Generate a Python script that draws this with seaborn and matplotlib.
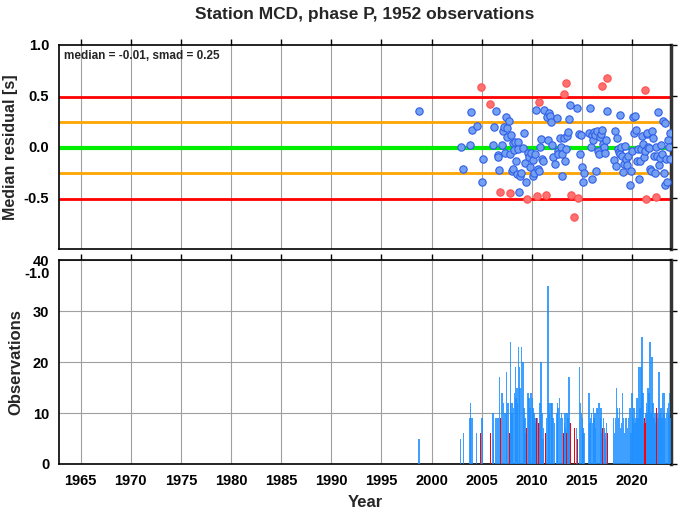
import matplotlib
matplotlib.use("Agg")
import matplotlib.pyplot as plt
import matplotlib.transforms as mtransforms
import seaborn as sns
import pandas as pd

# Monthly-ish bins: decimal year, median residual [s], number of observations
blue_year = [1998.73, 2002.90, 2003.17, 2003.83, 2003.90, 2004.03, 2004.50, 2005.00, 2005.10,
             2006.13, 2006.20, 2006.43, 2006.60, 2006.67, 2006.75, 2007.00, 2007.10, 2007.20,
             2007.30, 2007.43, 2007.50, 2007.57, 2007.70, 2007.87, 2007.93, 2008.03, 2008.10,
             2008.17, 2008.27, 2008.37, 2008.43, 2008.52, 2008.60, 2008.67, 2008.77, 2008.83,
             2008.97, 2009.10, 2009.23, 2009.30, 2009.40, 2009.60, 2009.70, 2009.83, 2009.93,
             2010.07, 2010.13, 2010.23, 2010.30, 2010.40, 2010.57, 2010.74, 2010.80, 2010.90,
             2011.00, 2011.10, 2011.17, 2011.48, 2011.60, 2011.70, 2011.77, 2011.90, 2012.03,
             2012.13, 2012.27, 2012.50, 2012.57, 2012.63, 2012.77, 2012.87, 2012.97, 2013.03,
             2013.25, 2013.32, 2013.37, 2013.50, 2013.60, 2013.70, 2013.77, 2014.47, 2014.73,
             2014.83, 2014.95, 2015.03, 2015.10, 2015.20, 2015.70, 2015.80, 2015.87, 2015.97,
             2016.03, 2016.13, 2016.20, 2016.30, 2016.37, 2016.50, 2016.63, 2016.73, 2016.83,
             2016.90, 2016.97, 2017.12, 2017.22, 2017.30, 2017.37, 2017.45, 2018.17, 2018.27,
             2018.37, 2018.47, 2018.57, 2018.67, 2018.77, 2018.83, 2018.93, 2019.03, 2019.13,
             2019.23, 2019.33, 2019.43, 2019.53, 2019.63, 2019.77, 2019.90, 2020.00, 2020.10,
             2020.20, 2020.30, 2020.40, 2020.50, 2020.60, 2020.70, 2020.80, 2020.90, 2021.00,
             2021.10, 2021.20, 2021.32, 2021.45, 2021.50, 2021.60, 2021.70, 2021.80, 2021.90,
             2022.00, 2022.10, 2022.20, 2022.30, 2022.35, 2022.50, 2022.60, 2022.70, 2022.80,
             2022.90, 2022.97, 2023.10, 2023.17, 2023.23, 2023.30, 2023.40, 2023.50, 2023.60,
             2023.67, 2023.73, 2023.80]
blue_resid = [0.355, 0.000, -0.220, 0.017, 0.345, 0.170, 0.210, -0.340, -0.120,
              0.017, 0.196, 0.355, -0.080, -0.100, -0.230, 0.020, 0.156, 0.200,
              -0.057, 0.296, 0.190, 0.096, 0.250, -0.073, 0.113, -0.236, 0.040,
              -0.216, -0.030, 0.046, -0.143, -0.270, 0.053, -0.020, -0.445, -0.290,
              -0.256, -0.010, 0.140, -0.160, -0.345, -0.057, -0.096, -0.196, -0.057,
              -0.286, -0.130, -0.260, -0.070, 0.360, -0.220, -0.236, -0.003, 0.073,
              -0.120, -0.136, 0.360, 0.290, 0.070, 0.335, 0.300, 0.246, 0.023,
              -0.096, -0.163, 0.286, -0.037, -0.070, 0.090, 0.003, -0.070, -0.290,
              0.090, -0.136, -0.020, 0.103, 0.146, 0.272, 0.408, 0.379, 0.123,
              -0.073, 0.120, -0.200, -0.345, -0.253, 0.136, 0.382, 0.003, 0.113,
              -0.319, 0.063, 0.143, 0.120, -0.236, 0.156, -0.037, -0.070, 0.096,
              0.130, 0.170, 0.030, -0.003, -0.057, 0.070, 0.355, -0.130, 0.156,
              -0.186, 0.090, -0.020, -0.053, -0.067, 0.312, -0.003, -0.086, -0.246,
              -0.163, 0.013, -0.120, -0.176, -0.086, -0.375, -0.236, -0.043, 0.290,
              0.136, 0.300, 0.170, -0.136, -0.020, -0.316, -0.136, -0.020, 0.110,
              0.030, -0.096, -0.037, 0.130, 0.136, 0.003, -0.010, -0.220, -0.236,
              0.153, 0.090, -0.086, -0.256, 0.003, -0.086, 0.345, -0.176, -0.110,
              0.017, -0.070, 0.256, -0.260, -0.378, 0.236, -0.120, -0.342, 0.063,
              -0.003, 0.136, -0.123]
blue_count = [5, 5, 6, 9, 12, 9, 6, 9, 9,
              10, 5, 9, 9, 9, 17, 14, 14, 12,
              10, 10, 18, 12, 12, 24, 12, 10, 12,
              11, 14, 19, 13, 15, 12, 23, 19, 15,
              23, 20, 11, 9, 6, 14, 13, 11, 14,
              13, 11, 10, 9, 8, 9, 8, 12, 20,
              10, 5, 7, 9, 35, 12, 10, 12, 12,
              9, 8, 10, 12, 11, 13, 9, 10, 9,
              8, 10, 7, 10, 9, 17, 8, 7, 19,
              12, 10, 9, 7, 6, 14, 8, 9, 10,
              8, 11, 9, 10, 7, 11, 12, 12, 9,
              11, 6, 9, 7, 6, 5, 8, 9, 6,
              9, 15, 11, 9, 11, 7, 8, 14, 9,
              6, 9, 9, 7, 9, 11, 6, 14, 9,
              11, 8, 9, 13, 9, 19, 11, 19, 25,
              14, 8, 10, 12, 10, 15, 14, 24, 10,
              21, 12, 9, 10, 8, 10, 9, 18, 10,
              11, 9, 14, 10, 14, 9, 10, 11, 12,
              10, 14, 9]

red_year = [2004.90, 2005.83, 2006.83, 2007.80, 2009.47, 2010.47, 2010.67, 2011.40, 2013.17,
            2013.43, 2013.87, 2014.23, 2014.60, 2017.03, 2017.53, 2021.27, 2021.37, 2022.43]
red_resid = [0.588, 0.425, -0.445, -0.455, -0.515, -0.482, 0.438, -0.472, 0.515,
             0.625, -0.475, -0.690, -0.500, 0.598, 0.674, 0.561, -0.512, -0.492]
red_count = [6, 6, 9, 6, 7, 9, 8, 6, 6,
             6, 8, 7, 5, 7, 6, 9, 8, 11]

median = -0.01
smad = 0.25
n_obs = 1952

blue = pd.DataFrame({"year": blue_year, "resid": blue_resid, "count": blue_count})
red = pd.DataFrame({"year": red_year, "resid": red_resid, "count": red_count})

sns.set_style("white")
plt.rcParams["font.family"] = ["Liberation Sans", "DejaVu Sans"]
plt.rcParams["font.weight"] = "bold"

fig = plt.figure(figsize=(6.78, 5.11), dpi=100)
ax1 = fig.add_axes([0.087, 0.513, 0.903, 0.399])
ax2 = fig.add_axes([0.087, 0.092, 0.903, 0.399])
ax1.set_zorder(2)
ax1.patch.set_alpha(0)

xlim = (1962.85, 2023.9)

# --- residual panel ---
ax1.axhline(median + 2 * smad, color="#ff0000", lw=2, zorder=2)
ax1.axhline(median - 2 * smad, color="#ff0000", lw=2, zorder=2)
ax1.axhline(median + smad, color="#ffa500", lw=2, zorder=2)
ax1.axhline(median - smad, color="#ffa500", lw=2, zorder=2)
ax1.axhline(median, color="#00ee00", lw=3, zorder=2)
sns.scatterplot(data=blue, x="year", y="resid", ax=ax1, s=28, color="#75a0f2",
                edgecolor="#2f5fe8", linewidth=0.8, zorder=3)
sns.scatterplot(data=red, x="year", y="resid", ax=ax1, s=28, color="#ff7070",
                edgecolor="#ff5050", linewidth=0.8, zorder=3)
ax1.set_xlim(*xlim)
ax1.set_ylim(-1.0, 1.0)
ax1.set_yticks([-1.0, -0.5, 0.0, 0.5, 1.0])
ax1.set_yticklabels(["-1.0", "-0.5", "0.0", "0.5", "1.0"])
ax1.set_xticks(range(1965, 2021, 5))
ax1.set_xticklabels([])
ax1.set_xlabel("")
ax1.set_ylabel("Median residual [s]", fontsize=11.5, fontweight="bold", labelpad=4)
ax1.text(0.008, 0.975, f"median = {median:.2f}, smad = {smad:.2f}", transform=ax1.transAxes,
         fontsize=8.5, fontweight="bold", va="top", ha="left")
ax1.set_title(f"Station MCD, phase P, {n_obs} observations", fontsize=12.5,
              fontweight="bold", pad=19)

# --- observation count panel ---
ax2.bar(blue["year"], blue["count"], width=0.14, color="#1e8fff", alpha=0.85,
        linewidth=0, zorder=3)
ax2.bar(red["year"], red["count"], width=0.1, color="#ff0000", linewidth=0, zorder=4)
ax2.set_xlim(*xlim)
ax2.set_ylim(0, 40)
ax2.set_yticks([0, 10, 20, 30, 40])
ax2.set_xticks(range(1965, 2021, 5))
ax2.set_xlabel("Year", fontsize=12, fontweight="bold", labelpad=5)
ax2.set_ylabel("Observations", fontsize=12, fontweight="bold", labelpad=7)

for ax in (ax1, ax2):
    ax.grid(True, color="#a0a0a0", lw=0.8, zorder=0)
    ax.set_axisbelow(True)
    ax.tick_params(direction="out", length=4, width=1, top=True, right=True,
                   labelsize=10.5, colors="black", pad=3)
    for lab in ax.get_xticklabels() + ax.get_yticklabels():
        lab.set_fontweight("bold")
    for side in ("left", "bottom", "top"):
        ax.spines[side].set_linewidth(1.2)
        ax.spines[side].set_color("black")
    ax.spines["right"].set_linewidth(2.5)
    ax.spines["right"].set_color("#333333")
ax1.yaxis.grid(False)

# the lowest residual label sits a little lower, as in the original
shift = mtransforms.ScaledTranslation(0, -0.24, fig.dpi_scale_trans)
low_label = ax1.get_yticklabels()[0]
low_label.set_transform(low_label.get_transform() + shift)

fig.savefig("out.png", dpi=100)
